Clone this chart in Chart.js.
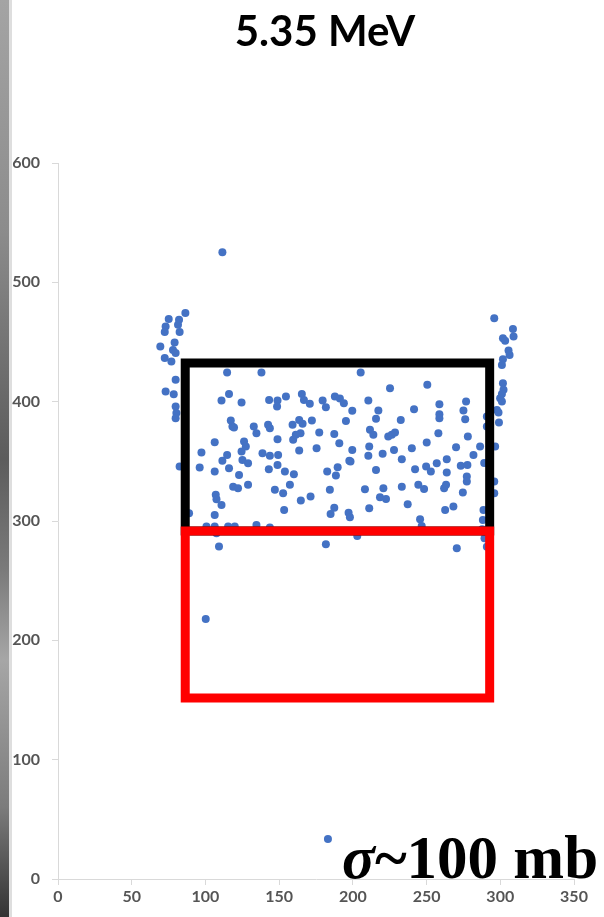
<!DOCTYPE html>
<html>
<head>
<meta charset="utf-8">
<script src="https://cdn.jsdelivr.net/npm/chart.js@4.4.0/dist/chart.umd.min.js"></script>
<style>
  body { margin: 0; background: #fff; }
  #wrap { position: relative; width: 604px; height: 917px; overflow: hidden; }
  #strip {
    position: absolute; left: 0; top: 0; width: 9px; height: 917px;
    background: linear-gradient(to bottom, #a4a4a4 0%, #8c8c8c 25%, #5c5c5c 50%, #7a7a7a 62%, #a6a6a6 72%, #7c7c7c 88%, #333 100%);
    border-right: 3px solid #dedede;
  }
  #title {
    position: absolute; left: 0; width: 650px; top: 5px; text-align: center;
    font-family: Lato, "Open Sans", sans-serif; font-weight: bold; font-size: 42px;
    line-height: 1.2; color: #000;
  }
  #sigma {
    position: absolute; left: 342px; top: 827px;
    font-family: "Liberation Serif", "DejaVu Serif", serif; font-weight: bold; font-size: 61px;
    line-height: 1; color: #000; white-space: nowrap;
  }
  #sigma i { font-style: italic; }
  canvas { position: absolute; left: 0; top: 0; }
</style>
</head>
<body>
<div id="wrap">
  <canvas id="myChart" width="604" height="917"></canvas>
  <div id="strip"></div>
  <div id="title">5.35 MeV</div>
  <div id="sigma"><i>σ</i>~100 mb</div>
</div>
<script>
// tick values
const xTicks = [0, 50, 100, 150, 200, 250, 300, 350];
const yTicks = [0, 100, 200, 300, 400, 500, 600];

// scatter points [x, y]
const edgeLeft = [
  [86.4,474.2],[75.1,469.2],[82.1,468.6],[73.0,463.0],[81.4,464.4],[82.5,458.3],[72.4,458.3],
  [79.1,449.5],[69.4,446.2],[78.0,443.4],[79.8,440.7],[72.4,436.5],[76.9,433.6],[79.8,418.3],
  [73.0,408.5],[78.5,406.3],[79.8,395.9],[80.3,390.4],[79.8,386.2],[82.5,345.6],[88.9,306.5]
];
const edgeRight = [
  [295.9,470.0],[308.6,460.8],[309.0,454.6],[301.8,453.2],[303.3,451.0],[305.6,442.8],[306.3,439.2],
  [301.8,435.6],[301.1,430.8],[301.8,415.5],[302.2,409.9],[301.1,406.5],[299.9,402.9],[301.1,400.1],
  [297.7,393.1],[298.8,390.9],[299.1,382.5],[296.5,362.4],[295.9,333.0],[295.9,323.3],[290.9,387.5],
  [290.9,379.1],[289.1,348.5],[288.6,309.3],[288.2,300.9],[287.7,293.0],[289.3,285.6],[290.9,278.5]
];
const cloudLeft = [
  [114.7,424.4],[138.0,424.4],[116.0,406.5],[110.9,400.9],[124.5,399.2],[143.2,401.5],[148.9,400.9],
  [148.6,395.9],[154.6,404.3],[165.4,406.5],[166.8,401.5],[170.8,398.2],[179.5,400.9],[181.7,395.4],
  [187.8,404.3],[117.2,384.2],[118.3,379.1],[132.8,379.1],[142.5,380.6],[159.1,380.6],[163.6,384.7],
  [165.9,381.4],[172.2,384.2],[191.2,402.6],[193.9,398.7],[199.6,392.3],[119.4,378.3],[143.7,377.8],
  [134.6,373.6],[164.5,373.6],[177.2,374.1],[187.4,373.0],[195.3,383.9],[106.3,366.0],[97.3,357.3],
  [114.7,355.4],[111.5,350.4],[126.2,366.6],[127.4,362.4],[124.5,358.2],[125.1,351.2],[128.9,348.4],
  [138.7,356.8],[143.7,354.6],[148.9,368.6],[149.3,355.4],[159.5,368.0],[161.3,372.2],[163.6,359.0],
  [175.4,361.0],[190.8,365.2],[199.6,359.6],[197.6,350.4],[96.1,344.8],[106.3,341.4],[116.0,344.3],
  [122.8,338.6],[143.0,343.4],[148.9,347.0],[153.9,341.4],[160.0,339.2],[182.6,341.4],[189.7,345.1],
  [188.5,338.1],[118.8,328.8],[122.1,327.5],[128.9,330.3],[147.1,326.1],[152.7,323.3],[157.3,330.3],
  [164.7,317.1],[171.3,320.5],[107.0,321.9],[107.5,318.3],[110.9,313.5],[106.3,305.1],[153.4,309.3],
  [184.4,326.1],[187.4,311.2],[184.9,305.9],[197.1,307.0],[198.0,303.2],[100.7,295.3],[106.3,295.3],
  [115.4,295.3],[119.9,295.3],[134.6,296.7],[143.7,294.5],[107.5,289.8],[109.2,278.6],[181.7,280.5]
];
const cloudRight = [
  [205.3,424.4],[225.2,411.3],[250.5,414.1],[210.5,400.9],[217.3,392.5],[215.7,385.6],[232.5,384.7],
  [241.5,393.7],[258.7,397.9],[258.7,389.5],[258.7,386.2],[276.8,400.1],[275.0,392.5],[276.2,385.3],
  [211.6,376.4],[213.9,372.2],[224.0,370.8],[226.4,372.2],[228.6,374.1],[258.0,373.6],[278.0,370.8],
  [286.3,362.4],[211.1,362.4],[210.5,354.6],[220.2,356.3],[227.9,359.6],[233.2,351.8],[240.0,361.0],
  [250.1,365.7],[270.0,361.9],[281.8,355.4],[198.4,349.8],[215.7,342.8],[242.2,343.4],[249.7,345.6],
  [252.9,341.4],[256.9,348.4],[263.7,351.8],[263.7,340.6],[273.2,346.4],[277.7,347.0],[277.3,337.2],
  [277.3,333.0],[208.2,326.7],[220.7,327.5],[218.4,320.0],[222.5,318.5],[233.2,328.8],[244.4,330.3],
  [248.3,326.9],[261.9,327.5],[263.2,330.3],[274.6,323.8],[211.1,310.7],[237.2,314.1],[262.6,309.3],
  [268.2,312.1],[245.6,301.5],[246.7,295.9],[203.0,287.5],[270.5,277.2]
];
const outliers = [[111.5,525.3],[100.2,217.9],[183.1,33.5]];

// the two boxes drawn over the data (x range, y range)
const boxX = [86.3, 292.8];
const blackBoxY = [291.7, 432.3];
const redBoxY = [151.7, 291.7];

function toXY(list) {
  return list.map(function (p) { return { x: p[0], y: p[1] }; });
}
function boxPath(xr, yr) {
  return [
    { x: xr[0], y: yr[0] }, { x: xr[0], y: yr[1] }, { x: xr[1], y: yr[1] },
    { x: xr[1], y: yr[0] }, { x: xr[0], y: yr[0] }
  ];
}

const allPoints = [].concat(edgeLeft, edgeRight, cloudLeft, cloudRight, outliers);
const tickFont = { family: 'Lato, "Open Sans", sans-serif', size: 16, weight: 'bold' };

let ctx = document.getElementById('myChart').getContext('2d');
let chart = new Chart(ctx, {
  type: 'scatter',
  data: {
    datasets: [
      {
        label: 'red box',
        data: boxPath(boxX, redBoxY),
        showLine: true,
        borderColor: '#ff0000',
        borderWidth: 9,
        borderJoinStyle: 'miter',
        borderCapStyle: 'square',
        pointRadius: 0,
        fill: false,
        order: 0
      },
      {
        label: 'black box',
        data: boxPath(boxX, blackBoxY),
        showLine: true,
        borderColor: '#000000',
        borderWidth: 9,
        borderJoinStyle: 'miter',
        borderCapStyle: 'square',
        pointRadius: 0,
        fill: false,
        order: 1
      },
      {
        label: 'events',
        data: toXY(allPoints),
        backgroundColor: '#4472c4',
        borderWidth: 0,
        pointRadius: 4,
        order: 2
      }
    ]
  },
  options: {
    responsive: false,
    animation: false,
    layout: { padding: { left: 0, right: 30, top: 163, bottom: 0 } },
    plugins: { legend: { display: false }, tooltip: { enabled: false } },
    scales: {
      x: {
        type: 'linear',
        min: xTicks[0],
        max: xTicks[xTicks.length - 1],
        afterBuildTicks: function (s) { s.ticks = xTicks.map(function (v) { return { value: v }; }); },
        afterFit: function (s) { s.height = 38; },
        ticks: { color: '#555555', font: tickFont, padding: 2, maxRotation: 0 },
        grid: { drawOnChartArea: false, drawTicks: true, tickLength: 6, color: '#d9d9d9' },
        border: { color: '#d9d9d9' }
      },
      y: {
        min: yTicks[0],
        max: yTicks[yTicks.length - 1],
        afterBuildTicks: function (s) { s.ticks = yTicks.map(function (v) { return { value: v }; }); },
        afterFit: function (s) { s.width = 58; },
        ticks: { color: '#555555', font: tickFont, padding: 12 },
        grid: { drawOnChartArea: false, drawTicks: true, tickLength: 6, color: '#d9d9d9' },
        border: { color: '#d9d9d9' }
      }
    }
  }
});
</script>
</body>
</html>
